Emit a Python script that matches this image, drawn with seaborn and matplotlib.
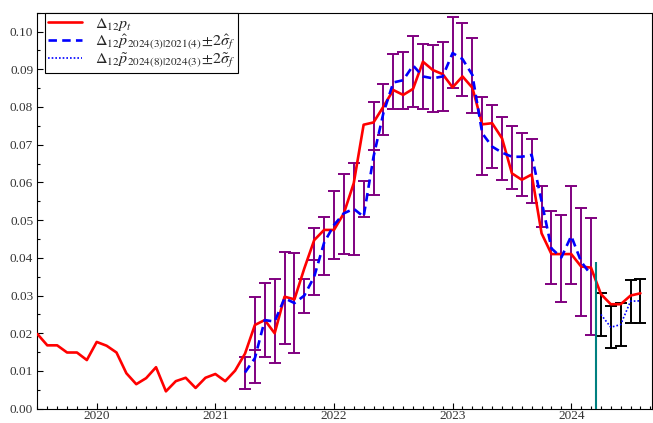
import numpy as np
import pandas as pd
import matplotlib
matplotlib.use("Agg")
import matplotlib.pyplot as plt
import seaborn as sns
from matplotlib.ticker import MultipleLocator, FormatStrFormatter

# ---------------- data ----------------
# actual 12-month inflation, monthly Jul 2019 .. Aug 2024
actual_start = (2019, 7)
actual_vals = [
    0.0198, 0.0168, 0.0168, 0.0149, 0.0149, 0.0129,                     # 2019 Jul-Dec
    0.0177, 0.0167, 0.0149, 0.0094, 0.0065, 0.0081,
    0.0110, 0.0046, 0.0073, 0.0082, 0.0055, 0.0082,                     # 2020
    0.0092, 0.0073, 0.0101, 0.0146, 0.0222, 0.0235,
    0.0200, 0.0297, 0.0290, 0.0372, 0.0447, 0.0474,                     # 2021
    0.0474, 0.0518, 0.0598, 0.0753, 0.0759, 0.0801,
    0.0845, 0.0832, 0.0848, 0.0920, 0.0898, 0.0887,                     # 2022
    0.0852, 0.0881, 0.0851, 0.0754, 0.0757, 0.0717,
    0.0624, 0.0607, 0.0621, 0.0465, 0.0410, 0.0410,                     # 2023
    0.0410, 0.0377, 0.0374, 0.0304, 0.0277, 0.0277, 0.0300, 0.0306,     # 2024 Jan-Aug
]

# forecast 2024(3)|2021(4), monthly Apr 2021 .. Mar 2024, with +-2 sigma band
fc_start = (2021, 4)
fc_vals = [
    0.0096, 0.0134, 0.0235, 0.0231, 0.0293, 0.0280, 0.0300, 0.0350, 0.0440,
    0.0487, 0.0518, 0.0530, 0.0509, 0.0668, 0.0784,
    0.0865, 0.0871, 0.0910, 0.0881, 0.0876, 0.0881,
    0.0943, 0.0927, 0.0885, 0.0730, 0.0695, 0.0679,
    0.0668, 0.0668, 0.0673, 0.0550, 0.0425, 0.0401,
    0.0458, 0.0390, 0.0355,
]
fc_lo = [
    0.0051, 0.0069, 0.0138, 0.0120, 0.0172, 0.0149, 0.0253, 0.0302, 0.0355,
    0.0396, 0.0410, 0.0408, 0.0508, 0.0567, 0.0726,
    0.0794, 0.0794, 0.0801, 0.0795, 0.0788, 0.0790,
    0.0850, 0.0829, 0.0785, 0.0620, 0.0638, 0.0607,
    0.0583, 0.0564, 0.0546, 0.0483, 0.0331, 0.0284,
    0.0330, 0.0246, 0.0196,
]
fc_hi = [
    0.0138, 0.0297, 0.0334, 0.0343, 0.0416, 0.0412, 0.0343, 0.0480, 0.0509,
    0.0576, 0.0623, 0.0651, 0.0605, 0.0812, 0.0860,
    0.0940, 0.0947, 0.0989, 0.0966, 0.0965, 0.0971,
    0.1038, 0.1024, 0.0984, 0.0826, 0.0804, 0.0773,
    0.0750, 0.0730, 0.0715, 0.0591, 0.0523, 0.0514,
    0.0591, 0.0532, 0.0505,
]
# extra inner caps visible on a few bars
extra_cap_dates = [(2021, 5), (2021, 11), (2022, 5)]
extra_cap_vals = [0.0156, 0.0394, 0.0686]

# nowcast 2024(8)|2024(3), monthly Apr 2024 .. Aug 2024
nc_start = (2024, 4)
nc_vals = [0.0250, 0.0216, 0.0223, 0.0285, 0.0286]
nc_lo = [0.0193, 0.0160, 0.0165, 0.0228, 0.0228]
nc_hi = [0.0306, 0.0272, 0.0281, 0.0341, 0.0343]

# forecast origin marker
origin_date = (2024, 3.5)
origin_top = 0.0389

year_ticks = [2020, 2021, 2022, 2023, 2024]
labels = [r"$\Delta_{12}p_t$",
          r"$\Delta_{12}\hat{p}_{2024(3)|2021(4)}\!\pm\!2\hat{\sigma}_f$",
          r"$\Delta_{12}\tilde{p}_{2024(8)|2024(3)}\!\pm\!2\tilde{\sigma}_f$"]


def dec(y, m):
    return y + (m - 1) / 12.0


def series(start, n):
    y, m = start
    return [dec(y + (m - 1 + i) // 12, (m - 1 + i) % 12 + 1) for i in range(n)]


# ---------------- plotting ----------------
sns.set_theme(style="ticks")
plt.rcParams["font.family"] = ["Liberation Serif", "DejaVu Serif"]
plt.rcParams["mathtext.fontset"] = "stix"

W, H = 653, 423
fig = plt.figure(figsize=(W / 100, H / 100), dpi=100)
x0, x1, ytop, ybot = 37.4, 652.3, 12.7, 408.7
ax = fig.add_axes([x0 / W, (H - ybot) / H, (x1 - x0) / W, (ybot - ytop) / H])

df_a = pd.DataFrame({"t": series(actual_start, len(actual_vals)), "v": actual_vals})
df_f = pd.DataFrame({"t": series(fc_start, len(fc_vals)), "v": fc_vals,
                     "lo": fc_lo, "hi": fc_hi})
df_n = pd.DataFrame({"t": series(nc_start, len(nc_vals)), "v": nc_vals,
                     "lo": nc_lo, "hi": nc_hi})

purple = "#800080"
ax.errorbar(df_f["t"], df_f["v"], yerr=[df_f["v"] - df_f["lo"], df_f["hi"] - df_f["v"]],
            fmt="none", ecolor=purple, elinewidth=1.4, capsize=4, capthick=1.4, zorder=2)
ax.scatter([dec(y, m) for y, m in extra_cap_dates], extra_cap_vals, marker="_",
           s=64, color=purple, linewidths=1.4, zorder=2)
ax.errorbar(df_n["t"], df_n["v"], yerr=[df_n["v"] - df_n["lo"], df_n["hi"] - df_n["v"]],
            fmt="none", ecolor="black", elinewidth=1.4, capsize=4, capthick=1.4, zorder=2)

sns.lineplot(data=df_a, x="t", y="v", ax=ax, color="red", lw=1.9, zorder=3,
             label=labels[0])
sns.lineplot(data=df_f, x="t", y="v", ax=ax, color="blue", lw=1.9, zorder=4,
             dashes=False, label=labels[1])
ax.lines[-1].set_linestyle((0, (3.2, 2.0)))
sns.lineplot(data=df_n, x="t", y="v", ax=ax, color="blue", lw=1.2, zorder=4,
             label=labels[2])
ax.lines[-1].set_linestyle((0, (1, 1.2)))

ax.vlines(dec(*origin_date), 0, origin_top, color="#008080", lw=1.5, zorder=5)

ax.set_xlim(2019.5, 2019.5 + 62.2 / 12)
ax.set_ylim(0, 0.105)
ax.set_xlabel("")
ax.set_ylabel("")
ax.xaxis.set_major_locator(matplotlib.ticker.FixedLocator(year_ticks))
ax.xaxis.set_major_formatter(FormatStrFormatter("%d"))
ax.xaxis.set_minor_locator(MultipleLocator(1 / 12))
ax.yaxis.set_major_locator(MultipleLocator(0.01))
ax.yaxis.set_minor_locator(MultipleLocator(0.005))
ax.yaxis.set_major_formatter(FormatStrFormatter("%.2f"))
ax.tick_params(which="both", direction="in", colors="black", labelcolor="#333333",
               labelsize=9.5, top=False, right=False, width=0.8)
ax.tick_params(which="major", length=4.5)
ax.tick_params(axis="y", which="major", pad=3)
ax.tick_params(axis="x", which="major", pad=1.2)
ax.tick_params(which="minor", length=2.2)
for s in ax.spines.values():
    s.set_linewidth(0.8)
    s.set_color("black")
    s.set_visible(True)

leg = ax.legend(loc="upper left", bbox_to_anchor=(0.0124, 1.0), borderaxespad=0,
                fontsize=11.5, frameon=True, fancybox=False, framealpha=1,
                edgecolor="black", handlelength=2.1, handletextpad=0.8,
                labelspacing=-0.05, borderpad=0.2)
leg.get_frame().set_linewidth(0.8)

fig.savefig("out.png", dpi=100)
